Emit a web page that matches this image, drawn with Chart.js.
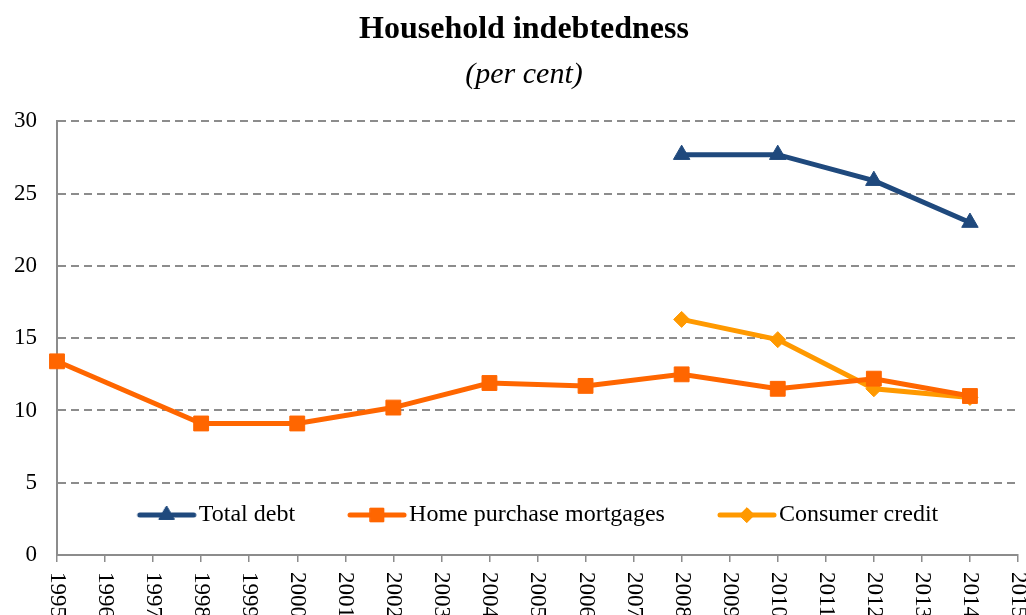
<!DOCTYPE html>
<html>
<head>
<meta charset="utf-8">
<script src="https://cdn.jsdelivr.net/npm/chart.js@4"></script>
<style>
  html, body { margin: 0; padding: 0; background: #fff; overflow: hidden; }
</style>
</head>
<body>
<canvas id="mycanvas" width="1026" height="615"></canvas>
<script>
var years = ['1995','1996','1997','1998','1999','2000','2001','2002','2003','2004','2005',
             '2006','2007','2008','2009','2010','2011','2012','2013','2014','2015'];

var totalDebt = [null,null,null,null,null,null,null,null,null,null,null,
                 null,null,27.7,null,27.7,null,25.9,null,23.0,null];
var mortgages = [13.4,null,null,9.1,null,9.1,null,10.2,null,11.9,null,
                 11.7,null,12.5,null,11.5,null,12.2,null,11.0,null];
var consumer  = [null,null,null,null,null,null,null,null,null,null,null,
                 null,null,16.3,null,14.9,null,11.5,null,10.9,null];

var seriesNames = ['Total debt', 'Home purchase mortgages', 'Consumer credit'];
var yTicks = [0, 5, 10, 15, 20, 25, 30];

var FONT = 'Liberation Serif';
var GRID = '#8c8c8c';

var styles = [
  {color: '#1F497D', point: 'triangle', radius: 9.5},
  {color: '#FF6600', point: 'rect', radius: 10.5},
  {color: '#FF9900', point: 'rectRot', radius: 8}
];

// legend glyph: short line with the marker in the middle
function legendIcon(s) {
  var c = document.createElement('canvas');
  c.width = 62; c.height = 22;
  var g = c.getContext('2d');
  g.strokeStyle = s.color;
  g.lineWidth = 5;
  g.lineCap = 'round';
  g.beginPath(); g.moveTo(4, 11); g.lineTo(58, 11); g.stroke();
  g.fillStyle = s.color;
  g.lineWidth = 1;
  Chart.helpers.drawPoint(g, {pointStyle: s.point, radius: s.radius * 0.9, rotation: 0, borderWidth: 1}, 31, 11);
  g.fill();
  g.stroke();
  return c;
}

var icons = styles.map(legendIcon);

// x labels rotated clockwise, drawn at the category scale tick pixels
var xLabelsPlugin = {
  id: 'xLabels',
  afterDraw: function(chart) {
    var xs = chart.scales.x, ctx = chart.ctx;
    ctx.save();
    ctx.font = '23px "' + FONT + '"';
    ctx.fillStyle = '#000';
    ctx.textAlign = 'left';
    ctx.textBaseline = 'middle';
    xs.ticks.forEach(function(t, i) {
      var px = xs.getPixelForTick(i);
      ctx.save();
      ctx.translate(px, xs.bottom + 10);
      ctx.rotate(Math.PI / 2);
      ctx.fillText(xs.getLabelForValue(t.value), 0, 0);
      ctx.restore();
    });
    ctx.restore();
  }
};

// legend inside the plot area near the bottom; titles nudged right
var layoutTweaks = {
  id: 'layoutTweaks',
  afterLayout: function(chart) {
    var lg = chart.legend, ca = chart.chartArea;
    var pad = lg.options.labels.padding;
    lg.left = ca.left + 10;
    lg.right = ca.right;
    lg.top = ca.bottom - 40 - pad - 12;
    lg.bottom = lg.top + 200;
    chart.boxes.forEach(function(b) {
      if (b !== lg && b.position === 'top' && b.options && b.options.text) {
        b.left += 18;
        b.right += 18;
      }
    });
  }
};

function makeSet(i, data) {
  return {
    label: seriesNames[i],
    data: data,
    borderColor: styles[i].color,
    backgroundColor: styles[i].color,
    borderWidth: 5,
    pointStyle: styles[i].point,
    pointRadius: styles[i].radius,
    pointHoverRadius: styles[i].radius,
    pointBorderWidth: 1,
    pointBorderColor: styles[i].color,
    pointBackgroundColor: styles[i].color,
    spanGaps: true,
    tension: 0,
    fill: false
  };
}

var ctx = document.getElementById('mycanvas');

var lineGraph = new Chart(ctx, {
  type: 'line',
  data: {
    labels: years,
    datasets: [makeSet(0, totalDebt), makeSet(1, mortgages), makeSet(2, consumer)]
  },
  options: {
    responsive: false,
    animation: false,
    devicePixelRatio: 1,
    layout: { autoPadding: false, padding: { left: -6, right: 8, top: 0, bottom: 52 } },
    plugins: {
      tooltip: { enabled: false },
      title: {
        display: true,
        text: 'Household indebtedness',
        color: '#000',
        font: { family: FONT, size: 32, weight: 'bold' },
        padding: { top: 11, bottom: 0 }
      },
      subtitle: {
        display: true,
        text: '(per cent)',
        color: '#000',
        font: { family: FONT, size: 30, style: 'italic' },
        padding: { top: 8, bottom: 28 }
      },
      legend: {
        position: 'bottom',
        maxHeight: 1,
        labels: {
          usePointStyle: true,
          pointStyleWidth: 40,
          padding: 62,
          color: '#000',
          font: { family: FONT, size: 24 },
          generateLabels: function(chart) {
            return chart.data.datasets.map(function(ds, i) {
              return {
                text: ds.label,
                datasetIndex: i,
                pointStyle: icons[i],
                fillStyle: 'transparent',
                strokeStyle: 'transparent',
                lineWidth: 0,
                hidden: false,
                fontColor: '#000'
              };
            });
          }
        }
      }
    },
    scales: {
      x: {
        type: 'category',
        offset: false,
        grid: { display: true, drawOnChartArea: false, drawTicks: true, tickLength: 7, color: GRID, lineWidth: 1.5 },
        border: { display: true, color: GRID, width: 2 },
        ticks: { display: false, autoSkip: false }
      },
      y: {
        min: 0,
        max: 30,
        afterBuildTicks: function(axis) {
          axis.ticks = yTicks.map(function(v) { return {value: v}; });
        },
        grid: { color: GRID, lineWidth: 2, drawTicks: false },
        border: { display: true, color: GRID, width: 2, dash: [8, 5] },
        ticks: {
          padding: 20,
          color: '#000',
          font: { family: FONT, size: 23 }
        }
      }
    }
  },
  plugins: [xLabelsPlugin, layoutTweaks]
});
</script>
</body>
</html>
